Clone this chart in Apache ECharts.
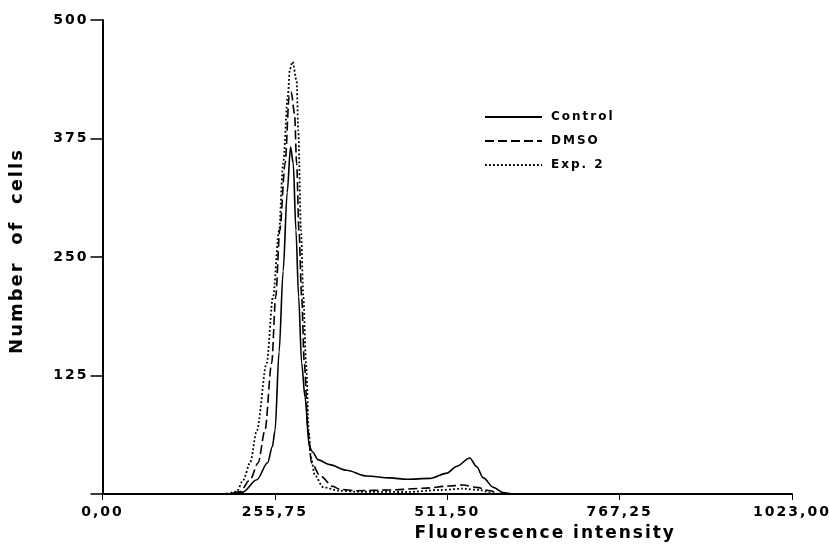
<!DOCTYPE html>
<html>
<head>
<meta charset="utf-8">
<script src="https://cdn.jsdelivr.net/npm/echarts@6/dist/echarts.min.js"></script>
<style>html,body{margin:0;padding:0;background:#fff;}#c{width:829px;height:548px;}</style>
</head>
<body>
<div id="c"></div>
<script>
var seriesNames = ['Control', 'DMSO', 'Exp. 2'];
var xTicks = [0, 255.75, 511.5, 767.25, 1023];
var yTicks = [0, 125, 250, 375, 500];

var controlX = [0, 190, 208, 229, 245, 252, 256, 262, 268, 274, 279, 283, 287, 291, 295.5, 300.5, 306.8, 312, 320, 337, 362, 392, 427, 451, 486, 511, 525, 545, 555, 565, 580, 594, 610, 1023];
var controlY = [0, 0, 2, 15, 33, 50, 67, 150, 235, 318, 366, 349, 278, 208, 138, 102, 50, 44, 36, 31, 25, 19, 17, 15.5, 16.5, 22, 29, 38, 29, 17, 7, 1.5, 0, 0];

var dmsoX = [0, 185, 204, 219, 231, 241, 251, 257, 263, 271, 277, 280, 285, 288, 291.5, 295.5, 299.4, 305, 310, 323, 342, 352, 377, 427, 475, 515, 535, 555, 575, 590, 1023];
var dmsoY = [0, 0, 2.4, 15, 33, 67, 138, 208, 278, 349, 420, 424, 401, 349, 278, 208, 138, 67, 33, 19, 8, 5, 3.5, 4.2, 6, 8.4, 9.5, 7, 3.5, 0, 0];

var expX = [0, 180, 199, 209, 219, 229, 243.6, 253, 262, 268, 275, 278, 282, 288, 290.5, 294.5, 298, 302, 306, 309, 315, 327, 350, 378, 451, 500, 535, 560, 579, 590, 1023];
var expY = [0, 0, 2.4, 15, 33, 67, 138, 208, 278, 349, 420, 448, 456, 436, 383, 278, 208, 138, 67, 39, 20, 7.4, 3.5, 2.4, 2.1, 4.2, 5.6, 4.2, 0.7, 0, 0];

function pairs(xs, ys) { return xs.map(function (x, i) { return [x, ys[i]]; }); }

// widen the lettering, like the extended typeface of the original
(function () {
  var proto = CanvasRenderingContext2D.prototype;
  var orig = proto.fillText;
  proto.fillText = function () {
    try { this.letterSpacing = '2px'; } catch (e) {}
    return orig.apply(this, arguments);
  };
})();

var font = 'DejaVu Sans';
var chart = echarts.init(document.getElementById('c'), null, {renderer: 'canvas'});
chart.setOption({
  animation: false,
  backgroundColor: '#fff',
  grid: {left: 102.5, right: 37, top: 20, bottom: 54, containLabel: false, outerBoundsMode: 'none'},
  legend: {
    orient: 'vertical',
    left: 479, top: 106,
    itemWidth: 57, itemHeight: 14, itemGap: 12,
    itemStyle: {opacity: 0},
    textStyle: {fontFamily: font, fontWeight: 'bold', fontSize: 12, color: '#000', padding: [0, 0, 0, 4]},
    data: seriesNames
  },
  xAxis: {
    type: 'value', min: 0, max: 1023, interval: 255.75,
    name: 'Fluorescence intensity', nameLocation: 'middle', nameGap: 31,
    nameTextStyle: {fontFamily: font, fontWeight: 'bold', fontSize: 17, color: '#000', padding: [0, 0, 0, 196]},
    axisLine: {lineStyle: {color: '#000', width: 2}},
    axisTick: {show: true, length: 6, lineStyle: {color: '#000', width: 1}},
    axisLabel: {fontFamily: font, fontWeight: 'bold', fontSize: 14, color: '#000', margin: 11,
      formatter: function (v) { return v.toFixed(2).replace('.', ','); }},
    splitLine: {show: false}
  },
  yAxis: {
    type: 'value', min: 0, max: 500, interval: 125,
    name: 'Number  of  cells', nameLocation: 'middle', nameGap: 76,
    nameTextStyle: {fontFamily: font, fontWeight: 'bold', fontSize: 18, color: '#000', padding: [0, 0, 0, 12]},
    axisLine: {lineStyle: {color: '#000', width: 2}},
    axisTick: {show: true, length: 12, lineStyle: {color: '#000', width: 1.5}},
    axisLabel: {fontFamily: font, fontWeight: 'bold', fontSize: 14, color: '#000', margin: 14,
      formatter: function (v) { return v === 0 ? '' : String(v); }},
    splitLine: {show: false}
  },
  series: [
    {name: seriesNames[0], type: 'line', data: pairs(controlX, controlY), symbol: 'none',
      smooth: 0.3, smoothMonotone: 'x', itemStyle: {color: '#000'},
      lineStyle: {color: '#000', width: 1.6, type: 'solid'}, z: 3},
    {name: seriesNames[1], type: 'line', data: pairs(dmsoX, dmsoY), symbol: 'none',
      smooth: 0.3, smoothMonotone: 'x', itemStyle: {color: '#000'},
      lineStyle: {color: '#000', width: 1.6, type: [9, 4]}, z: 2},
    {name: seriesNames[2], type: 'line', data: pairs(expX, expY), symbol: 'none',
      smooth: 0.3, smoothMonotone: 'x', itemStyle: {color: '#000'},
      lineStyle: {color: '#000', width: 1.8, type: [1.8, 2.2]}, z: 1}
  ]
});
</script>
</body>
</html>
